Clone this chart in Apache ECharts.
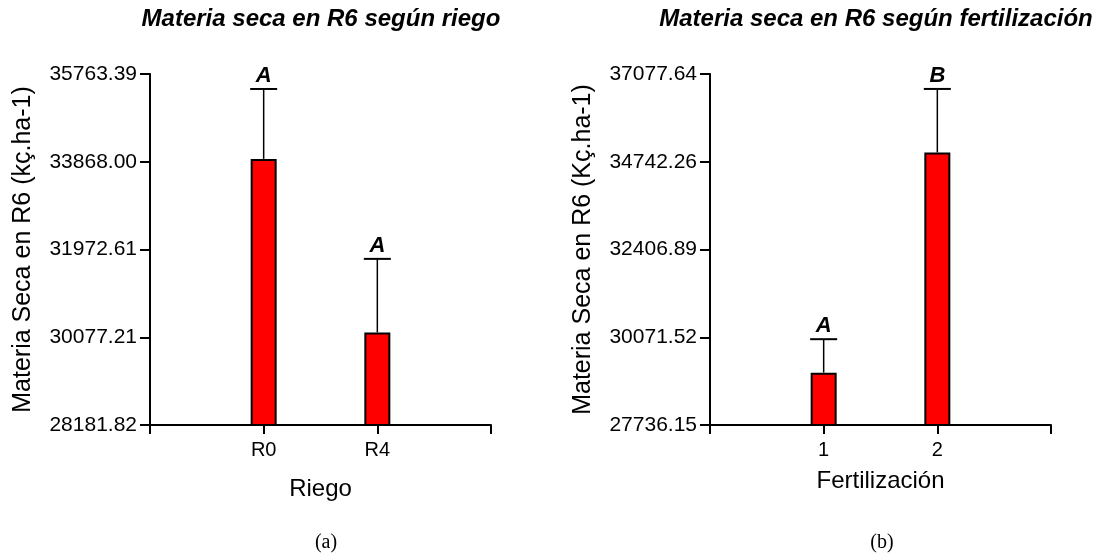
<!DOCTYPE html>
<html>
<head>
<meta charset="utf-8">
<script src="https://cdn.jsdelivr.net/npm/echarts@6/dist/echarts.min.js"></script>
<style>
  html, body { margin: 0; padding: 0; background: #fff; }
  #chart { width: 1103px; height: 558px; }
</style>
</head>
<body>
<div id="chart"></div>
<script>
// Dry matter at R6 by irrigation treatment
const riegoCategories = ['R0', 'R4'];
const riegoMeans = [33930, 30180];
const riegoErrors = [1510, 1590];
const riegoLetters = ['A', 'A'];
const riegoTicks = [28181.82, 30077.21, 31972.61, 33868.00, 35763.39];

// Dry matter at R6 by fertilization treatment
const fertCategories = ['1', '2'];
const fertMeans = [29130, 34990];
const fertErrors = [890, 1690];
const fertLetters = ['A', 'B'];
const fertTicks = [27736.15, 30071.52, 32406.89, 34742.26, 37077.64];

const SANS = 'Liberation Sans, Arial, sans-serif';
const SERIF = 'Liberation Serif, Times New Roman, serif';

// categories are padded with an empty slot on each side so ticks sit at the ends
const pad = arr => [''].concat(arr, ['']);
const padVals = arr => [null].concat(arr, [null]);

function xAxisFor(gridIndex, cats, name, nameGap) {
  return {
    type: 'category', gridIndex, data: pad(cats), boundaryGap: false,
    name, nameLocation: 'middle', nameGap,
    nameTextStyle: { fontFamily: SANS, fontSize: 24, color: '#000' },
    axisLine: { lineStyle: { color: '#000', width: 2 } },
    axisTick: { show: true, length: 9, interval: 0, lineStyle: { color: '#000', width: 2 } },
    axisLabel: { interval: 0, margin: 15, fontFamily: SANS, fontSize: 20, color: '#000' },
    splitLine: { show: false }
  };
}

function yAxisFor(gridIndex, ticks, name) {
  return {
    type: 'value', gridIndex,
    min: ticks[0], max: ticks[ticks.length - 1],
    name, nameLocation: 'middle', nameGap: 114,
    nameTextStyle: { fontFamily: SANS, fontSize: 25, color: '#000' },
    axisLine: { show: true, lineStyle: { color: '#000', width: 2 } },
    axisTick: { show: true, length: 10, customValues: ticks, lineStyle: { color: '#000', width: 2 } },
    axisLabel: {
      customValues: ticks, margin: 13, fontFamily: SANS, fontSize: 21, color: '#000',
      formatter: v => Number(v).toFixed(2)
    },
    splitLine: { show: false }
  };
}

function barSeries(idx, means) {
  return {
    type: 'bar', xAxisIndex: idx, yAxisIndex: idx,
    data: padVals(means), barWidth: 26,
    itemStyle: { color: '#ff0000', borderColor: '#000', borderWidth: 2 },
    silent: true
  };
}

// whisker above each bar with its group letter
function errorSeries(idx, means, errors, letters) {
  return {
    type: 'custom', xAxisIndex: idx, yAxisIndex: idx, z: 3, silent: true,
    data: means.map((m, i) => [i + 1, m, errors[i]]),
    renderItem: function (params, api) {
      const x = api.value(0), m = api.value(1), e = api.value(2);
      const base = api.coord([x, m]);
      const top = api.coord([x, m + e]);
      const half = 13.5;
      return {
        type: 'group',
        children: [
          { type: 'line', shape: { x1: base[0], y1: base[1], x2: top[0], y2: top[1] },
            style: { stroke: '#000', lineWidth: 1.5 } },
          { type: 'line', shape: { x1: top[0] - half, y1: top[1], x2: top[0] + half, y2: top[1] },
            style: { stroke: '#000', lineWidth: 2 } },
          { type: 'text', x: top[0], y: top[1] - 2,
            style: { text: letters[params.dataIndex], fill: '#000',
                     font: 'italic bold 22px ' + SANS, align: 'center', verticalAlign: 'bottom' } }
        ]
      };
    }
  };
}

const chart = echarts.init(document.getElementById('chart'), null, { renderer: 'canvas' });
chart.setOption({
  backgroundColor: '#fff',
  animation: false,
  title: [
    { text: 'Materia seca en R6 según riego', left: 321, top: 7, textAlign: 'center', padding: 0,
      textStyle: { fontFamily: SANS, fontSize: 24, fontWeight: 'bold', fontStyle: 'italic', color: '#000' } },
    { text: 'Materia seca en R6 según fertilización', left: 876, top: 7, textAlign: 'center', padding: 0,
      textStyle: { fontFamily: SANS, fontSize: 24, fontWeight: 'bold', fontStyle: 'italic', color: '#000' } },
    { text: '(a)', left: 326, top: 533, textAlign: 'center', padding: 0,
      textStyle: { fontFamily: SERIF, fontSize: 20, fontWeight: 'normal', color: '#000' } },
    { text: '(b)', left: 882, top: 533, textAlign: 'center', padding: 0,
      textStyle: { fontFamily: SERIF, fontSize: 20, fontWeight: 'normal', color: '#000' } }
  ],
  grid: [
    { left: 150, top: 74, width: 341, height: 351 },
    { left: 710, top: 74, width: 341, height: 351 }
  ],
  xAxis: [
    xAxisFor(0, riegoCategories, 'Riego', 52),
    xAxisFor(1, fertCategories, 'Fertilización', 44)
  ],
  yAxis: [
    yAxisFor(0, riegoTicks, 'Materia Seca en R6 (kç.ha-1)'),
    yAxisFor(1, fertTicks, 'Materia Seca en R6 (Kç.ha-1)')
  ],
  series: [
    barSeries(0, riegoMeans),
    errorSeries(0, riegoMeans, riegoErrors, riegoLetters),
    barSeries(1, fertMeans),
    errorSeries(1, fertMeans, fertErrors, fertLetters)
  ]
});
</script>
</body>
</html>
